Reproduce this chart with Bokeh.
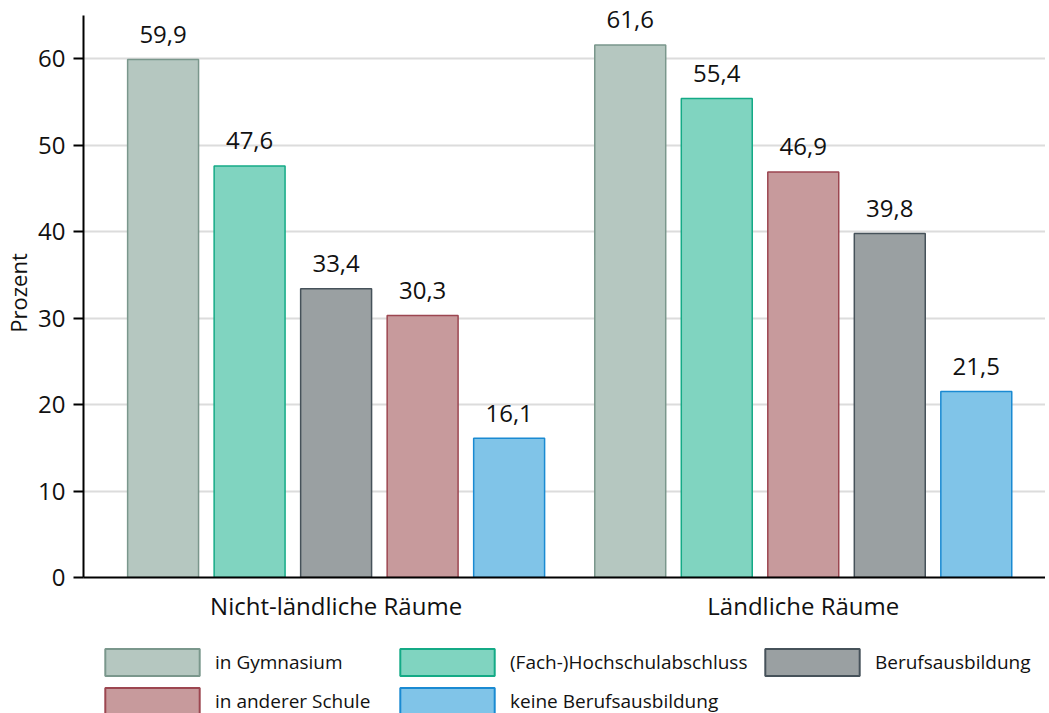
from bokeh.plotting import figure
from bokeh.layouts import column
from bokeh.models import ColumnDataSource, FixedTicker, Legend, LegendItem, Range1d
from bokeh.embed import file_html
from bokeh.resources import INLINE
from bokeh.core.properties import value

groups = ["Nicht-ländliche Räume", "Ländliche Räume"]
series = ["in Gymnasium", "(Fach-)Hochschulabschluss", "Berufsausbildung",
          "in anderer Schule", "keine Berufsausbildung"]
nicht_laendlich = [59.9, 47.6, 33.4, 30.3, 16.1]
laendlich = [61.6, 55.4, 39.8, 46.9, 21.5]
fill_colors = ["#b5c7c0", "#80d4c0", "#9aa0a2", "#c79a9c", "#80c4e8"]
line_colors = ["#7a978c", "#14aa86", "#46525a", "#9c4650", "#1a8ad2"]
y_ticks = [0, 10, 20, 30, 40, 50, 60]

FONT = "Open Sans"
gap = 0.4
n = len(series)

p = figure(frame_width=962, frame_height=569, output_backend="svg",
           toolbar_location=None, min_border_left=75, min_border_top=8,
           min_border_right=0, min_border_bottom=45,
           x_range=Range1d(-0.92, 10.2), y_range=Range1d(0, 65.81))
p.outline_line_color = None
p.background_fill_color = "white"

values = [nicht_laendlich, laendlich]
# within each group, bars are ordered by descending value
ranks = []
for vals in values:
    order = sorted(range(n), key=lambda k: -vals[k])
    ranks.append({k: pos for pos, k in enumerate(order)})

for i, name in enumerate(series):
    xs = [g * (n + gap) + ranks[g][i] for g in range(len(groups))]
    tops = [values[g][i] for g in range(len(groups))]
    src = ColumnDataSource(dict(x=xs, top=tops,
                                lab=[f"{v:.1f}".replace(".", ",") for v in tops]))
    p.vbar(x="x", top="top", width=0.82, bottom=0, source=src,
           fill_color=fill_colors[i], line_color=line_colors[i], line_width=1.5)
    p.text(x="x", y="top", text="lab", source=src, text_align="center",
           text_baseline="alphabetic", y_offset=-25, text_font=value(FONT),
           text_font_size="24px", text_color="#111111")

# axes
centers = [g * (n + gap) + (n - 1) / 2 for g in range(len(groups))]
p.xaxis.ticker = FixedTicker(ticks=centers)
p.xaxis.major_label_overrides = {c: groups[g] for g, c in enumerate(centers)}
p.xaxis.major_tick_line_color = None
p.xaxis.minor_tick_line_color = None
p.xaxis.axis_line_color = "black"
p.xaxis.axis_line_width = 2
p.xaxis.major_label_text_font = FONT
p.xaxis.major_label_text_font_size = "24px"
p.xaxis.major_label_text_color = "#111111"
p.xaxis.major_label_standoff = 5

p.yaxis.ticker = FixedTicker(ticks=y_ticks)
p.yaxis.bounds = (0, 65)
p.yaxis.axis_line_color = "black"
p.yaxis.axis_line_width = 2
p.yaxis.major_tick_in = 0
p.yaxis.major_tick_out = 10
p.yaxis.major_tick_line_width = 2
p.yaxis.minor_tick_line_color = None
p.yaxis.major_label_text_font = FONT
p.yaxis.major_label_text_font_size = "24px"
p.yaxis.major_label_text_color = "#111111"
p.yaxis.major_label_standoff = 8
p.yaxis.axis_label = "Prozent"
p.yaxis.axis_label_text_font = FONT
p.yaxis.axis_label_text_font_size = "22px"
p.yaxis.axis_label_text_font_style = "normal"
p.yaxis.axis_label_text_color = "#111111"
p.yaxis.axis_label_standoff = 2

p.xgrid.grid_line_color = None
p.ygrid.grid_line_color = "#dcdcdc"
p.ygrid.grid_line_width = 2

# legend in its own strip below the chart (frame aligned with the chart's frame)
LH = 91
lf = figure(width=1037, height=LH, output_backend="svg", toolbar_location=None,
            x_axis_type=None, y_axis_type=None, min_border=0,
            x_range=Range1d(0, 1), y_range=Range1d(0, 1))
lf.outline_line_color = None
lf.background_fill_color = "white"

legend_items = []
for i, name in enumerate(series):
    # swatch-only renderer: no drawable bar, only its style feeds the legend
    r = lf.vbar(x=[float("nan")], top=[float("nan")], width=0.5,
                fill_color=fill_colors[i], line_color=line_colors[i], line_width=2)
    legend_items.append(LegendItem(label=name, renderers=[r]))

# three legend columns (row-major order of the reference legend)
col_items = [[legend_items[0], legend_items[3]],
             [legend_items[1], legend_items[4]],
             [legend_items[2]]]
col_x = [10, 305, 670]
GW, GH, SP = 118, 34, 5
for items, x in zip(col_items, col_x):
    h = len(items) * GH + (len(items) - 1) * SP
    lg = Legend(items=items, orientation="vertical", location=(x, LH - 21 - h),
                glyph_width=GW, glyph_height=GH, label_height=GH,
                label_text_font=FONT, label_text_font_size="19px",
                label_text_color="#111111", label_standoff=4, spacing=SP,
                padding=0, margin=0, border_line_color=None,
                background_fill_alpha=0)
    lf.add_layout(lg, "center")

layout = column(p, lf, spacing=0)
open("out.html", "w").write(file_html(layout, INLINE))
